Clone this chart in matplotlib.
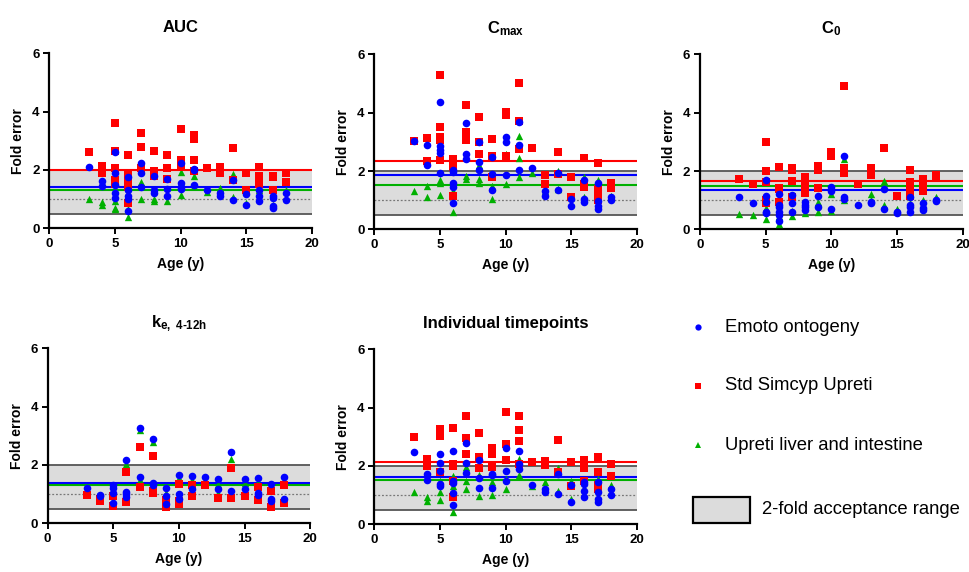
import matplotlib
matplotlib.use("Agg")
import matplotlib.pyplot as plt
from matplotlib.lines import Line2D
from matplotlib.patches import Rectangle

plt.rcParams["font.family"] = ["Liberation Sans", "DejaVu Sans"]
plt.rcParams["mathtext.fontset"] = "custom"
plt.rcParams["mathtext.rm"] = "Liberation Sans:bold"
plt.rcParams["mathtext.bf"] = "Liberation Sans:bold"
plt.rcParams["mathtext.it"] = "Liberation Sans:bold"

# ---------------- AUC ----------------
auc_emoto_age = [3, 4, 4, 5, 5, 5, 5, 5, 6, 6, 6, 6, 6, 7, 7, 7, 8, 8, 8, 9, 9, 9,
                 10, 10, 10, 10, 11, 11, 11, 12, 13, 13, 14, 14, 15, 15, 16, 16, 16,
                 17, 17, 17, 17, 18, 18]
auc_emoto = [2.1, 1.62, 1.45, 2.6, 1.9, 1.48, 1.2, 1.05, 1.75, 1.3, 1.1, 1.0, 0.6,
             2.25, 1.9, 1.4, 1.78, 1.3, 1.2, 1.68, 1.35, 1.1, 2.22, 1.55, 1.4, 1.35,
             2.03, 1.98, 1.48, 1.3, 1.2, 1.1, 1.65, 0.98, 1.18, 0.78, 1.3, 1.1, 0.92,
             1.1, 1.05, 0.75, 0.68, 1.2, 0.98]
auc_std_age = [3, 4, 4, 5, 5, 5, 5, 5, 6, 6, 6, 6, 6, 6, 7, 7, 7, 8, 8, 8, 9, 9, 9,
               10, 10, 10, 11, 11, 11, 11, 12, 13, 13, 14, 14, 15, 15, 16, 16, 16,
               17, 17, 17, 18, 18]
auc_std = [2.6, 2.15, 1.9, 3.6, 2.65, 2.05, 1.65, 1.5, 2.5, 1.85, 1.6, 1.5, 1.4, 0.85,
           3.25, 2.78, 2.05, 2.65, 1.95, 1.8, 2.5, 2.05, 1.7, 3.4, 2.35, 2.1, 3.2,
           3.05, 2.33, 1.95, 2.05, 2.1, 1.9, 2.75, 1.65, 1.9, 1.3, 2.1, 1.8, 1.5,
           1.8, 1.75, 1.3, 1.9, 1.58]
auc_liver_age = [3, 4, 4, 5, 5, 5, 6, 6, 7, 7, 8, 8, 9, 10, 10, 11, 11, 12, 13, 14,
                 14, 15, 16, 17, 18]
auc_liver = [1.0, 0.9, 0.8, 0.95, 0.7, 0.65, 0.65, 0.4, 1.6, 1.0, 1.0, 0.95, 0.92,
             1.92, 1.15, 1.78, 1.45, 1.25, 1.38, 1.85, 1.08, 0.85, 1.3, 0.8, 1.3]
auc_means = {"std": 2.0, "emoto": 1.42, "liver": 1.3}

# ---------------- Cmax ----------------
cmax_emoto_age = [3, 4, 4, 5, 5, 5, 5, 5, 6, 6, 6, 6, 6, 7, 7, 7, 8, 8, 8, 9, 9, 9,
                  10, 10, 10, 11, 11, 11, 12, 13, 13, 14, 14, 15, 15, 16, 16, 16,
                  17, 17, 17, 17, 18, 18]
cmax_emoto = [3.03, 2.9, 2.2, 4.38, 2.85, 2.72, 2.62, 1.92, 2.05, 1.95, 1.6, 1.45,
              0.92, 3.65, 2.58, 2.42, 2.98, 2.3, 2.02, 2.48, 1.9, 1.35, 3.18, 2.98,
              1.85, 3.68, 2.9, 2.02, 2.12, 1.32, 1.15, 1.35, 1.92, 1.05, 0.8, 1.7,
              1.05, 0.95, 1.6, 0.98, 0.8, 0.7, 1.1, 1.0]
cmax_std_age = [3, 4, 4, 5, 5, 5, 5, 5, 6, 6, 6, 7, 7, 7, 8, 8, 8, 9, 9, 9, 10, 10,
                10, 10, 11, 11, 11, 12, 13, 13, 14, 14, 15, 15, 16, 16, 16, 17, 17,
                17, 17, 17, 18, 18]
cmax_std = [3.02, 3.12, 2.35, 5.3, 3.5, 3.15, 3.05, 2.38, 2.42, 2.15, 1.15, 4.27,
            3.35, 3.08, 3.85, 3.0, 2.58, 3.1, 2.5, 1.8, 4.03, 3.92, 2.5, 2.45, 5.03,
            3.73, 2.75, 2.8, 1.85, 1.55, 2.65, 1.9, 1.78, 1.12, 2.45, 1.55, 1.45,
            2.28, 1.4, 1.25, 1.1, 1.0, 1.6, 1.42]
cmax_liver_age = [3, 4, 4, 5, 5, 5, 6, 6, 7, 7, 8, 8, 8, 9, 9, 10, 10, 11, 11, 11,
                  12, 13, 14, 14, 15, 16, 16, 17, 17, 18]
cmax_liver = [1.32, 1.5, 1.1, 1.7, 1.6, 1.18, 1.3, 0.58, 1.82, 1.72, 2.2, 1.72, 1.6,
              1.5, 1.05, 2.6, 1.55, 3.2, 2.45, 1.8, 1.92, 1.3, 2.0, 1.4, 1.1, 1.8,
              1.1, 1.68, 1.5, 1.15]
cmax_means = {"std": 2.35, "emoto": 1.86, "liver": 1.53}

# ---------------- C0 ----------------
c0_emoto_age = [3, 4, 5, 5, 5, 5, 5, 6, 6, 6, 6, 6, 6, 7, 7, 7, 8, 8, 8, 8, 9, 9,
                10, 10, 10, 11, 11, 11, 12, 13, 13, 14, 14, 15, 15, 16, 16, 16, 16,
                17, 17, 17, 18, 18]
c0_emoto = [1.1, 0.92, 1.7, 1.15, 0.95, 0.6, 0.55, 1.2, 0.85, 0.75, 0.6, 0.5, 0.3,
            1.18, 0.92, 0.6, 0.95, 0.85, 0.75, 0.65, 1.15, 0.75, 1.45, 1.3, 0.7,
            2.52, 1.12, 1.05, 0.82, 0.95, 0.9, 1.38, 0.7, 0.6, 0.55, 1.1, 0.85,
            0.75, 0.6, 0.92, 0.72, 0.68, 1.02, 0.98]
c0_std_age = [3, 4, 5, 5, 5, 5, 5, 6, 6, 6, 6, 7, 7, 7, 7, 8, 8, 8, 9, 9, 9, 10,
              10, 11, 11, 11, 12, 13, 13, 14, 15, 16, 16, 16, 16, 17, 17, 17, 18, 18]
c0_std = [1.72, 1.55, 2.98, 2.0, 1.62, 1.0, 0.92, 2.15, 1.42, 1.38, 0.95, 2.1, 2.05,
          1.65, 1.1, 1.8, 1.5, 1.25, 2.18, 2.02, 1.42, 2.65, 2.52, 4.9, 2.12, 1.92,
          1.55, 2.12, 1.88, 2.78, 1.15, 2.05, 1.62, 1.4, 1.15, 1.72, 1.45, 1.3,
          1.85, 1.75]
c0_liver_age = [3, 4, 5, 5, 6, 6, 7, 7, 8, 9, 9, 10, 10, 11, 11, 13, 13, 14, 14,
                15, 16, 16, 17, 18]
c0_liver = [0.52, 0.5, 0.72, 0.35, 0.45, 0.2, 0.62, 0.45, 0.55, 0.95, 0.6, 1.2,
            0.62, 2.4, 1.0, 1.2, 1.0, 1.65, 0.82, 0.7, 1.25, 0.92, 1.02, 1.12]
c0_means = {"std": 1.67, "emoto": 1.35, "liver": 1.47}

# ---------------- ke, 4-12h ----------------
ke_emoto_age = [3, 4, 4, 5, 5, 5, 5, 6, 6, 6, 6, 7, 7, 8, 8, 8, 9, 9, 9, 10, 10,
                10, 11, 11, 12, 13, 13, 14, 14, 15, 15, 16, 16, 16, 17, 17, 17, 18,
                18]
ke_emoto = [1.22, 0.98, 0.92, 1.3, 1.2, 1.05, 0.68, 2.18, 1.08, 1.0, 0.9, 3.28, 1.6,
            2.9, 1.38, 1.3, 1.2, 0.95, 0.65, 1.65, 1.0, 0.82, 1.62, 1.18, 1.6, 1.52,
            1.18, 2.45, 1.1, 1.52, 1.18, 1.55, 1.05, 0.98, 1.35, 0.85, 0.75, 1.6,
            0.82]
ke_std_age = [3, 4, 4, 5, 5, 6, 6, 7, 7, 8, 8, 8, 9, 9, 10, 10, 10, 11, 11, 12,
              13, 14, 14, 15, 16, 16, 17, 17, 18, 18]
ke_std = [0.98, 0.85, 0.75, 0.92, 0.58, 1.75, 0.72, 2.6, 1.25, 2.3, 1.1, 1.05, 0.8,
          0.55, 1.35, 0.75, 0.65, 1.3, 0.92, 1.3, 0.88, 1.9, 0.88, 0.95, 1.25, 0.8,
          1.1, 0.55, 1.3, 0.7]
ke_liver_age = [5, 6, 7, 7, 8, 9, 10, 11, 11, 12, 13, 13, 14, 15, 15, 16, 17, 18]
ke_liver = [1.1, 2.05, 3.2, 1.5, 2.8, 1.05, 1.55, 1.5, 1.1, 1.5, 1.35, 1.05, 2.2,
            1.38, 1.05, 1.4, 1.2, 1.5]
ke_means = {"emoto": 1.37, "liver": 1.33}

# ---------------- Individual timepoints ----------------
tp_emoto_age = [3, 4, 4, 5, 5, 5, 5, 5, 6, 6, 6, 6, 6, 7, 7, 7, 8, 8, 8, 9, 9, 9,
                10, 10, 10, 11, 11, 11, 12, 13, 13, 14, 14, 15, 15, 16, 16, 16, 16,
                17, 17, 17, 17, 18, 18]
tp_emoto = [2.48, 1.72, 1.52, 2.42, 2.1, 1.82, 1.38, 1.32, 2.52, 1.5, 1.42, 1.08,
            0.65, 2.8, 2.1, 1.75, 2.22, 1.6, 1.25, 1.72, 1.68, 1.25, 2.6, 1.82, 1.48,
            2.5, 2.05, 1.9, 1.35, 1.2, 1.12, 1.72, 1.05, 1.35, 0.78, 1.45, 1.38,
            1.15, 0.95, 1.45, 1.1, 0.85, 0.75, 1.22, 1.0]
tp_std_age = [3, 4, 4, 5, 5, 5, 6, 6, 6, 6, 6, 7, 7, 7, 8, 8, 8, 9, 9, 9, 10, 10,
              10, 11, 11, 11, 11, 12, 13, 13, 14, 14, 15, 15, 16, 16, 16, 17, 17,
              17, 17, 18, 18]
tp_std = [3.0, 2.25, 2.0, 3.28, 3.02, 1.8, 3.3, 2.05, 2.0, 1.5, 0.92, 3.72, 2.95,
          2.4, 3.12, 2.3, 1.92, 2.6, 2.42, 1.95, 3.85, 2.75, 2.2, 3.72, 3.22, 2.85,
          2.05, 2.12, 2.18, 2.02, 2.9, 1.78, 2.12, 1.3, 2.22, 1.92, 1.5, 2.3, 1.8,
          1.35, 1.2, 2.05, 1.65]
tp_liver_age = [3, 4, 4, 5, 5, 5, 6, 6, 6, 7, 7, 7, 8, 8, 9, 9, 10, 10, 11, 11, 12,
                13, 14, 14, 15, 15, 16, 17, 17, 18]
tp_liver = [1.12, 0.92, 0.8, 1.5, 1.1, 0.82, 1.65, 1.3, 0.42, 1.95, 1.5, 1.2, 1.68,
            0.98, 1.45, 1.0, 1.22, 1.55, 2.25, 1.7, 1.3, 1.45, 1.92, 1.15, 0.88,
            1.5, 1.25, 1.55, 0.95, 1.35]
tp_means = {"std": 2.15, "emoto": 1.62, "liver": 1.52}

series_names = ["Emoto ontogeny", "Std Simcyp Upreti", "Upreti liver and intestine"]
band_label = "2-fold acceptance range"

BLUE = "#0000ff"
RED = "#ff0000"
GREEN = "#00b000"
BAND = "#dcdcdc"
EDGE = "#555555"

panels = [
    ("AUC", (auc_emoto_age, auc_emoto), (auc_std_age, auc_std),
     (auc_liver_age, auc_liver), auc_means, [0.0509, 0.601]),
    (r"$\mathrm{C}_{\mathrm{max}}$", (cmax_emoto_age, cmax_emoto),
     (cmax_std_age, cmax_std), (cmax_liver_age, cmax_liver), cmax_means,
     [0.3863, 0.599]),
    (r"$\mathrm{C}_{\mathrm{0}}$", (c0_emoto_age, c0_emoto), (c0_std_age, c0_std),
     (c0_liver_age, c0_liver), c0_means, [0.7224, 0.599]),
    (r"$\mathrm{k}_{\mathrm{e,\ 4\text{-}12h}}$", (ke_emoto_age, ke_emoto),
     (ke_std_age, ke_std), (ke_liver_age, ke_liver), ke_means, [0.0492, 0.0851]),
    ("Individual timepoints", (tp_emoto_age, tp_emoto), (tp_std_age, tp_std),
     (tp_liver_age, tp_liver), tp_means, [0.3863, 0.0834]),
]

fig = plt.figure(figsize=(9.69, 5.72), dpi=100)

for title, emoto, std, liver, means, (left, bottom) in panels:
    ax = fig.add_axes([left, bottom, 0.271, 0.306])
    ax.set_xlim(0, 20)
    ax.set_ylim(0, 6)
    # 2-fold acceptance band with unity reference
    ax.axhspan(0.5, 2.0, color=BAND, lw=0, zorder=0)
    ax.axhline(0.5, color=EDGE, lw=1.3, zorder=1)
    ax.axhline(2.0, color=EDGE, lw=1.3, zorder=1)
    ax.axhline(1.0, color="#777777", lw=0.9, ls=(0, (1.5, 1.5)), zorder=1)
    # geometric mean fold error per model
    if "liver" in means:
        ax.axhline(means["liver"], color=GREEN, lw=1.5, zorder=2)
    if "emoto" in means:
        ax.axhline(means["emoto"], color=BLUE, lw=1.5, zorder=2)
    if "std" in means:
        ax.axhline(means["std"], color=RED, lw=1.5, zorder=2)

    ax.scatter(liver[0], liver[1], marker="^", s=28, color=GREEN, lw=0, zorder=3)
    ax.scatter(std[0], std[1], marker="s", s=28, color=RED, lw=0, zorder=4)
    ax.scatter(emoto[0], emoto[1], marker="o", s=30, color=BLUE, lw=0, zorder=5)

    for side in ("top", "right"):
        ax.spines[side].set_visible(False)
    for side in ("left", "bottom"):
        ax.spines[side].set_linewidth(1.6)
    ax.set_xticks([0, 5, 10, 15, 20])
    ax.set_yticks([0, 2, 4, 6])
    ax.tick_params(direction="out", length=4, width=1.4, pad=3, labelsize=9.5)
    for lab in ax.get_xticklabels() + ax.get_yticklabels():
        lab.set_fontweight("bold")
    ax.set_xlabel("Age (y)", fontsize=10, fontweight="bold", labelpad=5)
    ax.set_ylabel("Fold error", fontsize=10, fontweight="bold", labelpad=5)
    ax.set_title(title, fontsize=12, fontweight="bold", pad=15)

# legend drawn in figure coordinates
W, H = 969.0, 572.0
entries = [("o", BLUE, 327), ("s", RED, 386), ("^", GREEN, 445)]
for (mk, col, ypx), name in zip(entries, series_names):
    fig.add_artist(Line2D([698 / W], [1 - ypx / H], marker=mk, color=col, ms=4.5,
                          mew=0, ls="none", transform=fig.transFigure))
    fig.text(725 / W, 1 - ypx / H, name, fontsize=13.3, va="center", ha="left")
fig.add_artist(Rectangle((693 / W, 1 - 523 / H), 57 / W, 26 / H,
                         facecolor=BAND, edgecolor="black", lw=1.6,
                         transform=fig.transFigure))
fig.text(762 / W, 1 - 510 / H, band_label, fontsize=13.3, va="center", ha="left")

fig.savefig("out.png", dpi=100)
